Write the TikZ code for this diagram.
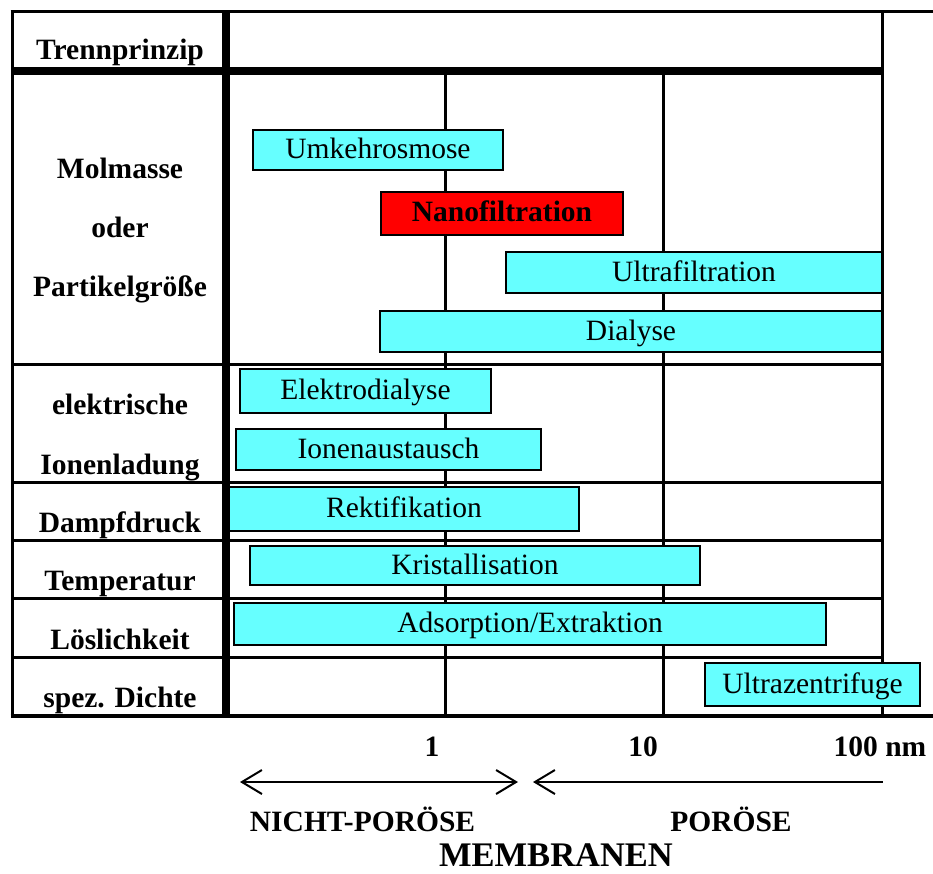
\documentclass[tikz,border=0pt]{standalone}
\usepackage{fontspec}
\setmainfont{Liberation Serif}
\usetikzlibrary{arrows.meta}
\definecolor{cy}{HTML}{66FFFF}
\definecolor{rd}{HTML}{FF0000}
\begin{document}
\begin{tikzpicture}[x=1pt,y=-1pt,
  lbl/.style={font=\fontsize{29.5}{34}\selectfont\bfseries, anchor=base, inner sep=0pt},
  bigl/.style={font=\fontsize{34.5}{40}\selectfont\bfseries, anchor=base, inner sep=0pt},
  cbox/.style={draw, line width=2.5pt, fill=cy, inner sep=0pt, outer sep=0pt,
    font=\fontsize{29.5}{34}\selectfont, text height=20pt, text depth=3pt},
  rbox/.style={cbox, fill=rd, font=\fontsize{29.5}{34}\selectfont\bfseries},
  gthin/.style={line width=3pt},
  gthick/.style={line width=8pt},
  dim/.style={line width=2pt, {Straight Barb[length=20pt,width=24pt]}-{Straight Barb[length=20pt,width=24pt]}},
  dimr/.style={line width=2pt, {Straight Barb[length=20pt,width=24pt]}-}
]
\useasboundingbox (0,0) rectangle (933,874);

% grid
\draw[gthin] (10.5,12) -- (933,12);
\draw[gthin] (12,12) -- (12,716);
\draw[gthick] (12,71) -- (882,71);
\draw[gthick] (226,12) -- (226,716);
\draw[gthin] (882,12) -- (882,716);
\draw[gthin] (445,75) -- (445,716);
\draw[gthin] (663,75) -- (663,716);
\foreach \yy in {364,482,540,598,657} \draw[gthin] (12,\yy) -- (882,\yy);
\draw[line width=4pt] (10.5,716) -- (933,716);

% left column labels
\node[lbl] (l0) at (120,60) {Trennprinzip};
\node[lbl] (l1) at (120,179) {Molmasse};
\node[lbl] (l2) at (120,238) {oder};
\node[lbl] (l3) at (120,297) {Partikelgröße};
\node[lbl] (l4) at (120,414) {elektrische};
\node[lbl] (l5) at (120,474) {Ionenladung};
\node[lbl] (l6) at (120,532) {Dampfdruck};
\node[lbl] (l7) at (120,590) {Temperatur};
\node[lbl] (l8) at (120,649) {Löslichkeit};
\node[lbl] (l9) at (120,707) {spez. Dichte};

% boxes
\node[cbox, minimum width=250pt, minimum height=40pt] (umk) at (378,150) {Umkehrosmose};
\node[rbox, minimum width=242pt, minimum height=43pt] (nano) at (502,213.5) {Nanofiltration};
\node[cbox, minimum width=376pt, minimum height=41pt] (ultra) at (694,272.5) {Ultrafiltration};
\node[cbox, minimum width=502pt, minimum height=41pt] (dia) at (631,331.5) {Dialyse};
\node[cbox, minimum width=251pt, minimum height=44pt] (elek) at (365.5,391) {Elektrodialyse};
\node[cbox, minimum width=305pt, minimum height=41pt] (ion) at (388.5,449.5) {Ionenaustausch};
\node[cbox, minimum width=350pt, minimum height=44pt] (rek) at (404,509) {Rektifikation};
\node[cbox, minimum width=450pt, minimum height=39pt] (kri) at (475,565.5) {Kristallisation};
\node[cbox, minimum width=592pt, minimum height=42pt] (ads) at (530,624) {Adsorption/Extraktion};
\node[cbox, minimum width=215pt, minimum height=43pt] (uz) at (812.5,684.5) {Ultrazentrifuge};

% scale
\node[lbl] (n1) at (432,756) {1};
\node[lbl] (n10) at (643,756) {10};
\node[lbl] (n100) at (880,756) {100 nm};

\coordinate (a1) at (240,782);
\coordinate (a2) at (518,782);
\coordinate (a3) at (533,782);
\coordinate (a4) at (883,782);
\draw[dim] (a1) -- (a2);
\draw[dimr] (a3) -- (a4);

\node[lbl] (np) at (362.5,831) {NICHT-PORÖSE};
\node[lbl] (po) at (731,831) {PORÖSE};
\node[bigl] (mem) at (556,866) {MEMBRANEN};
\end{tikzpicture}
\end{document}
